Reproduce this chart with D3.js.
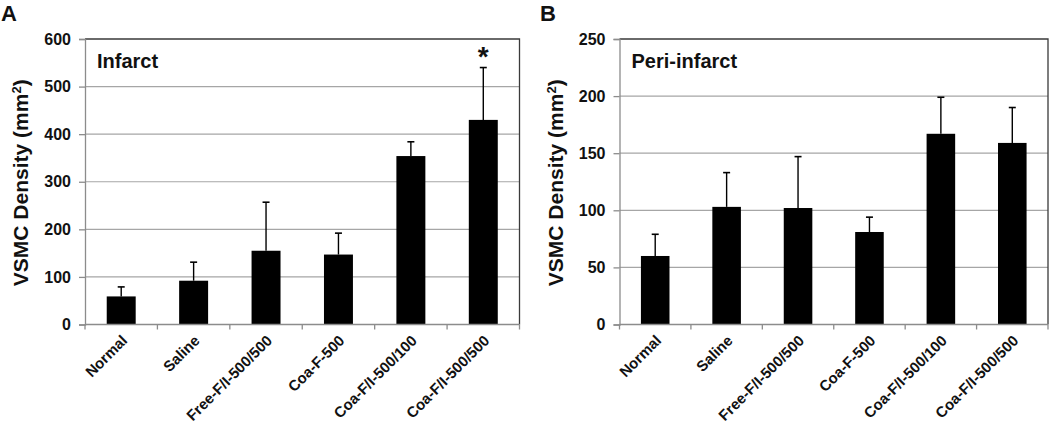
<!DOCTYPE html>
<html>
<head>
<meta charset="utf-8">
<script src="https://cdn.jsdelivr.net/npm/d3@7"></script>
<style>
  html, body { margin: 0; padding: 0; background: #fff; }
  svg { display: block; font-family: "Liberation Sans", Arial, sans-serif; }
</style>
</head>
<body>
<svg id="chart" width="1050" height="429"></svg>
<script>
// ---- data ----
const categories = ["Normal", "Saline", "Free-F/I-500/500", "Coa-F-500", "Coa-F/I-500/100", "Coa-F/I-500/500"];
const infarctMeans = [59, 92, 155, 147, 354, 430];
const infarctErrors = [20, 39, 102, 45, 30, 110];
const periMeans = [60, 103, 102, 81, 167, 159];
const periErrors = [19, 30, 45, 13, 32, 31];
const infarctTicks = [0, 100, 200, 300, 400, 500, 600];
const periTicks = [0, 50, 100, 150, 200, 250];
const infarctStars = ["", "", "", "", "", "*"];
const periStars = ["", "", "", "", "", ""];

const svg = d3.select("#chart");

function drawPanel(opt) {
  const g = svg.append("g");
  const x = d3.scaleBand().domain(categories).range([opt.x0, opt.x1]).paddingInner(0.6).paddingOuter(0.3);
  const xb = d3.scaleBand().domain(categories).range([opt.x0, opt.x1]);
  const y = d3.scaleLinear().domain([0, opt.ticks[opt.ticks.length - 1]]).range([opt.y0, opt.y1]);

  // gridlines
  g.selectAll("line.grid").data(opt.ticks.slice(1, -1)).enter().append("line")
    .attr("x1", opt.x0).attr("x2", opt.x1)
    .attr("y1", d => y(d)).attr("y2", d => y(d))
    .attr("stroke", "#a6a6a6").attr("stroke-width", 1.2);

  // frame top & right
  g.append("path")
    .attr("d", `M${opt.x0},${y(opt.ticks[opt.ticks.length - 1])}H${opt.x1}V${opt.y0}`)
    .attr("fill", "none").attr("stroke", "#3a3a3a").attr("stroke-width", 1.3);

  // bars
  const data = categories.map((c, i) => ({ c, v: opt.means[i], e: opt.errors[i], s: opt.stars[i] }));
  g.selectAll("rect.bar").data(data).enter().append("rect")
    .attr("x", d => x(d.c)).attr("width", x.bandwidth())
    .attr("y", d => y(d.v)).attr("height", d => y(0) - y(d.v))
    .attr("fill", "#000");

  // error bars (upper only)
  const cx = d => x(d.c) + x.bandwidth() / 2;
  g.selectAll("line.err").data(data).enter().append("line")
    .attr("x1", cx).attr("x2", cx)
    .attr("y1", d => y(d.v)).attr("y2", d => y(d.v + d.e))
    .attr("stroke", "#000").attr("stroke-width", 1.4);
  g.selectAll("line.cap").data(data).enter().append("line")
    .attr("x1", d => cx(d) - 3.5).attr("x2", d => cx(d) + 3.5)
    .attr("y1", d => y(d.v + d.e)).attr("y2", d => y(d.v + d.e))
    .attr("stroke", "#000").attr("stroke-width", 1.6);

  // significance stars
  g.selectAll("text.star").data(data.filter(d => d.s)).enter().append("text")
    .attr("x", cx).attr("y", d => y(d.v + d.e) - 2)
    .attr("text-anchor", "middle").attr("font-size", 28).attr("font-weight", "bold")
    .attr("fill", "#111").text(d => d.s);

  // y axis
  const yAxis = d3.axisLeft(y).tickValues(opt.ticks).tickSize(6).tickPadding(8);
  const ya = g.append("g").attr("transform", `translate(${opt.x0},0)`).call(yAxis);
  ya.select(".domain").attr("stroke", "#8c8c8c").attr("stroke-width", 1.3);
  ya.selectAll(".tick line").attr("stroke", "#8c8c8c").attr("stroke-width", 1.3);
  ya.selectAll(".tick text").attr("font-size", 16).attr("font-weight", "bold").attr("fill", "#111")
    .attr("font-family", "Liberation Sans, Arial, sans-serif");

  // x axis: line + tick marks at band boundaries
  g.append("line").attr("x1", opt.x0).attr("x2", opt.x1).attr("y1", opt.y0).attr("y2", opt.y0)
    .attr("stroke", "#8c8c8c").attr("stroke-width", 1.3);
  const bounds = categories.map(c => xb(c)).concat([opt.x1]);
  g.selectAll("line.xt").data(bounds).enter().append("line")
    .attr("x1", d => d).attr("x2", d => d).attr("y1", opt.y0).attr("y2", opt.y0 + 5)
    .attr("stroke", "#8c8c8c").attr("stroke-width", 1.3);

  // x labels rotated
  g.selectAll("text.xl").data(categories).enter().append("text")
    .attr("transform", c => `translate(${xb(c) + xb.bandwidth() / 2 + 7},${opt.y0 + 17}) rotate(-45)`)
    .attr("text-anchor", "end").attr("font-size", 15).attr("font-weight", "bold").attr("fill", "#111")
    .text(c => c);

  // y title
  const t = g.append("text")
    .attr("transform", `translate(${opt.x0 - 57},${(opt.y0 + opt.y1) / 2 + 1}) rotate(-90)`)
    .attr("text-anchor", "middle").attr("font-size", 21).attr("font-weight", "bold").attr("fill", "#111");
  t.append("tspan").text("VSMC Density (mm");
  t.append("tspan").attr("baseline-shift", "super").attr("font-size", 13).text("2");
  t.append("tspan").text(")");

  // inner title
  g.append("text").attr("x", opt.x0 + 12).attr("y", 68)
    .attr("font-size", 20).attr("font-weight", "bold").attr("fill", "#111").text(opt.title);

  // panel letter
  g.append("text").attr("x", opt.letterX).attr("y", 21)
    .attr("font-size", 22).attr("font-weight", "bold").attr("fill", "#111").text(opt.letter);
}

drawPanel({ x0: 85, x1: 519.5, y0: 324.5, y1: 39, ticks: infarctTicks, means: infarctMeans, errors: infarctErrors,
  stars: infarctStars, title: "Infarct", letter: "A", letterX: 1 });
drawPanel({ x0: 619.5, x1: 1048, y0: 324.5, y1: 39, ticks: periTicks, means: periMeans, errors: periErrors,
  stars: periStars, title: "Peri-infarct", letter: "B", letterX: 540 });
</script>
</body>
</html>
